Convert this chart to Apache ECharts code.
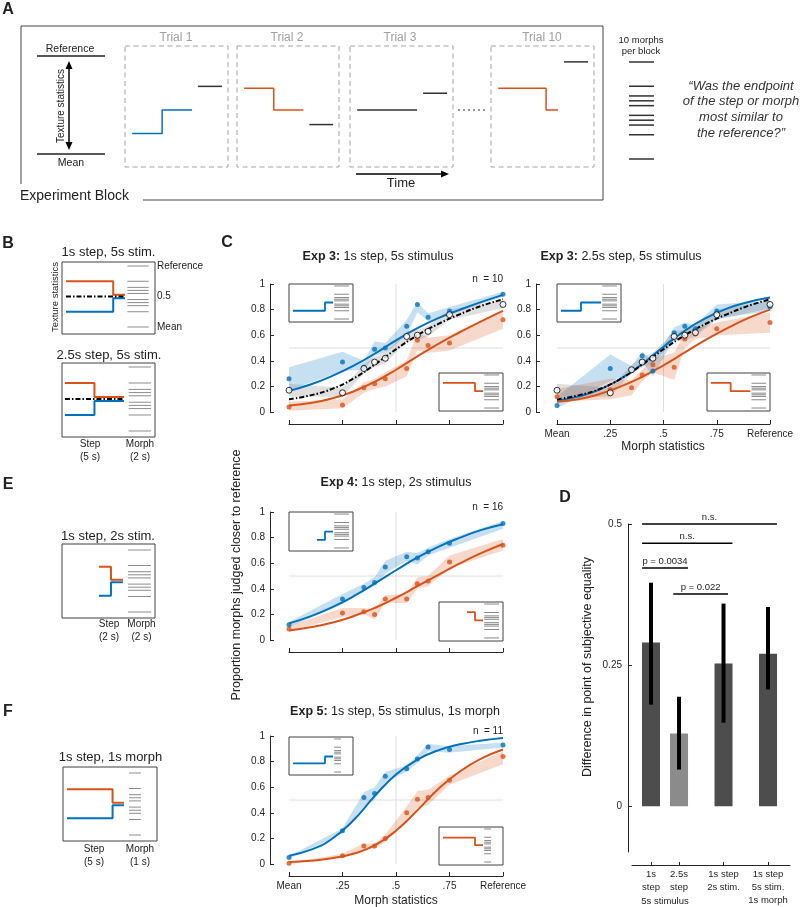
<!DOCTYPE html>
<html><head><meta charset="utf-8">
<script src="https://cdn.jsdelivr.net/npm/echarts@6/dist/echarts.min.js"></script>
<style>html,body{margin:0;padding:0;background:#fff}#c{width:800px;height:907px}</style>
</head><body><div id="c"></div>
<script>
// ---------------- DATA ----------------
const morphLevels = [0, 0.25, 0.35, 0.4, 0.45, 0.55, 0.6, 0.65, 0.75, 1];
const fitX = [0, 0.1, 0.2, 0.3, 0.4, 0.5, 0.6, 0.7, 0.8, 0.9, 1];
const morphTickLabels = ['Mean', '.25', '.5', '.75', 'Reference'];
const refLevel = 0.5;

// Exp 3: 1s step, 5s stimulus
const e3sBlue      = [0.26, 0.39, 0.35, 0.49, 0.50, 0.67, 0.84, 0.74, 0.79, 0.92];
const e3sBlueLo    = [0.17, 0.32, 0.33, 0.44, 0.46, 0.60, 0.78, 0.71, 0.76, 0.90];
const e3sBlueHi    = [0.35, 0.47, 0.40, 0.55, 0.54, 0.72, 0.86, 0.77, 0.82, 0.94];
const e3sBlueFit   = [0.165, 0.215, 0.28, 0.36, 0.455, 0.56, 0.655, 0.735, 0.80, 0.86, 0.915];
const e3sMean      = [0.17, 0.15, 0.34, 0.39, 0.42, 0.59, 0.60, 0.63, 0.76, 0.84];
const e3sMeanLo    = [0.12, 0.12, 0.30, 0.35, 0.38, 0.55, 0.56, 0.59, 0.72, 0.81];
const e3sMeanHi    = [0.22, 0.19, 0.37, 0.43, 0.46, 0.63, 0.64, 0.67, 0.80, 0.87];
const e3sMeanFit   = [0.10, 0.13, 0.18, 0.26, 0.37, 0.49, 0.60, 0.69, 0.765, 0.83, 0.88];
const e3sOrange    = [0.04, 0.055, 0.19, 0.22, 0.26, 0.34, 0.56, 0.52, 0.54, 0.72];
const e3sOrangeLo  = [0.01, 0.03, 0.15, 0.18, 0.20, 0.28, 0.48, 0.46, 0.48, 0.65];
const e3sOrangeHi  = [0.08, 0.10, 0.23, 0.26, 0.31, 0.40, 0.62, 0.58, 0.60, 0.78];
const e3sOrangeFit = [0.05, 0.07, 0.105, 0.16, 0.235, 0.33, 0.435, 0.535, 0.625, 0.71, 0.79];

// Exp 3: 2.5s step, 5s stimulus
const e3lBlue      = [0.05, 0.34, 0.33, 0.44, 0.32, 0.62, 0.67, 0.65, 0.79, 0.82];
const e3lBlueLo    = [0.03, 0.24, 0.30, 0.39, 0.28, 0.57, 0.62, 0.61, 0.73, 0.79];
const e3lBlueHi    = [0.12, 0.45, 0.36, 0.47, 0.40, 0.66, 0.70, 0.68, 0.84, 0.87];
const e3lBlueFit   = [0.09, 0.12, 0.175, 0.26, 0.375, 0.51, 0.635, 0.735, 0.81, 0.86, 0.895];
const e3lMean      = [0.17, 0.15, 0.33, 0.39, 0.42, 0.59, 0.60, 0.62, 0.76, 0.84];
const e3lMeanLo    = [0.12, 0.12, 0.30, 0.35, 0.38, 0.55, 0.56, 0.59, 0.72, 0.81];
const e3lMeanHi    = [0.22, 0.19, 0.37, 0.43, 0.46, 0.63, 0.64, 0.67, 0.80, 0.87];
const e3lMeanFit   = [0.10, 0.13, 0.18, 0.26, 0.37, 0.49, 0.60, 0.69, 0.765, 0.83, 0.88];
const e3lOrange    = [0.12, 0.175, 0.19, 0.29, 0.37, 0.35, 0.57, 0.61, 0.65, 0.70];
const e3lOrangeLo  = [0.08, 0.10, 0.13, 0.24, 0.31, 0.25, 0.50, 0.57, 0.60, 0.62];
const e3lOrangeHi  = [0.18, 0.26, 0.25, 0.33, 0.42, 0.46, 0.62, 0.65, 0.70, 0.78];
const e3lOrangeFit = [0.08, 0.10, 0.14, 0.20, 0.275, 0.365, 0.465, 0.565, 0.655, 0.735, 0.80];

// Exp 4: 1s step, 2s stimulus
const e4Blue      = [0.12, 0.32, 0.41, 0.45, 0.57, 0.65, 0.64, 0.69, 0.755, 0.91];
const e4BlueLo    = [0.10, 0.28, 0.38, 0.42, 0.52, 0.62, 0.59, 0.66, 0.72, 0.87];
const e4BlueHi    = [0.14, 0.36, 0.44, 0.49, 0.62, 0.69, 0.68, 0.72, 0.79, 0.93];
const e4BlueFit   = [0.13, 0.185, 0.255, 0.34, 0.44, 0.545, 0.645, 0.73, 0.80, 0.86, 0.905];
const e4Orange    = [0.085, 0.21, 0.22, 0.20, 0.32, 0.32, 0.44, 0.46, 0.61, 0.74];
const e4OrangeLo  = [0.07, 0.18, 0.20, 0.16, 0.29, 0.29, 0.40, 0.42, 0.56, 0.70];
const e4OrangeHi  = [0.11, 0.25, 0.25, 0.24, 0.35, 0.36, 0.49, 0.50, 0.66, 0.79];
const e4OrangeFit = [0.075, 0.10, 0.135, 0.185, 0.25, 0.33, 0.42, 0.51, 0.60, 0.68, 0.75];

// Exp 5: 1s step, 5s stimulus, 1s morph
const e5Blue      = [0.05, 0.26, 0.52, 0.55, 0.685, 0.745, 0.82, 0.915, 0.895, 0.93];
const e5BlueLo    = [0.04, 0.24, 0.45, 0.50, 0.64, 0.72, 0.79, 0.88, 0.87, 0.91];
const e5BlueHi    = [0.06, 0.28, 0.56, 0.60, 0.72, 0.77, 0.85, 0.94, 0.92, 0.95];
const e5BlueFit   = [0.065, 0.11, 0.195, 0.34, 0.53, 0.70, 0.815, 0.89, 0.935, 0.965, 0.985];
const e5Orange    = [0.005, 0.065, 0.14, 0.14, 0.20, 0.40, 0.505, 0.52, 0.655, 0.84];
const e5OrangeLo  = [0.0, 0.05, 0.12, 0.12, 0.17, 0.35, 0.44, 0.46, 0.62, 0.78];
const e5OrangeHi  = [0.01, 0.08, 0.16, 0.16, 0.23, 0.45, 0.57, 0.58, 0.69, 0.88];
const e5OrangeFit = [0.015, 0.025, 0.045, 0.08, 0.145, 0.26, 0.42, 0.59, 0.725, 0.825, 0.895];

// Panel D
const pseLabels = ['1s\nstep', '2.5s\nstep', '1s step\n2s stim.', '1s step\n5s stim.\n1s morph'];
const pseSlot   = [1, 1.63, 2.63, 3.63];
const pseValues = [0.29, 0.129, 0.253, 0.27];
const pseLo     = [0.18, 0.065, 0.148, 0.207];
const pseHi     = [0.396, 0.194, 0.359, 0.353];
const sigFrom   = [0.8, 0.8, 0.8, 1.5];
const sigTo     = [3.83, 2.83, 1.83, 2.73];
const sigLevel  = [0.5, 0.466, 0.422, 0.376];
const sigText   = ['n.s.', 'n.s.', 'p = 0.0034', 'p = 0.022'];
const pseTicks  = [0, 0.25, 0.5];

// Schematic data (time in s, texture statistic 0 = Mean, 1 = Reference)
const axisLevels = [0, 1];
const trial1Step = [[0,0.21],[2.5,0.21],[2.5,0.45],[5,0.45]];
const trial1Morph = [0.69];
const trial2Step = [[0,0.67],[2.5,0.67],[2.5,0.45],[5,0.45]];
const trial2Morph = [0.30];
const trial3Step = [[0,0.45],[5,0.45]];
const trial3Morph = [0.62];
const trial10Step = [[0,0.67],[4,0.67],[4,0.45],[5,0.45]];
const trial10Morph = [0.94];

const b1Orange = [[0,0.75],[4,0.75],[4,0.53],[5,0.53]];
const b1Blue   = [[0,0.25],[4,0.25],[4,0.47],[5,0.47]];
const b1Mean   = [[0,0.5],[5,0.5]];
const b2Orange = [[0,0.75],[2.5,0.75],[2.5,0.53],[5,0.53]];
const b2Blue   = [[0,0.25],[2.5,0.25],[2.5,0.47],[5,0.47]];
const b2Mean   = [[0,0.5],[5,0.5]];
const eOrange  = [[0,0.73],[1,0.73],[1,0.52],[2,0.52]];
const eBlue    = [[0,0.26],[1,0.26],[1,0.48],[2,0.48]];
const fOrange  = [[0,0.74],[4,0.74],[4,0.52],[5,0.52]];
const fBlue    = [[0,0.27],[4,0.27],[4,0.48],[5,0.48]];

const in3sBlue   = [[0,0.25],[4,0.25],[4,0.5],[5,0.5]];
const in3sOrange = [[0,0.76],[4,0.76],[4,0.51],[5,0.51]];
const in3lBlue   = [[0,0.25],[2.5,0.25],[2.5,0.5],[5,0.5]];
const in3lOrange = [[0,0.76],[2.5,0.76],[2.5,0.51],[5,0.51]];
const in4Blue    = [[3,0.24],[4,0.24],[4,0.48],[5,0.48]];
const in4Orange  = [[3,0.76],[4,0.76],[4,0.52],[5,0.52]];
const in5Blue    = [[0,0.26],[4,0.26],[4,0.47],[5,0.47]];
const in5Orange  = [[0,0.74],[4,0.74],[4,0.51],[5,0.51]];

// ---------------- BUILD ----------------
const FONT = '"Liberation Sans", Arial, Helvetica, sans-serif';
const BLUE = '#0072BD', ORANGE = '#D95319';
const BLUE_BAND = 'rgba(0,114,189,0.22)', ORANGE_BAND = 'rgba(217,83,25,0.22)', GRAY_BAND = 'rgba(100,100,100,0.2)';
const TXT = '#262626';

const grids = [], xAxes = [], yAxes = [], series = [], graphics = [];

function addGrid(rect, xr, yr, border) {
  const i = grids.length;
  grids.push({left: rect[0], top: rect[1], width: rect[2], height: rect[3],
    show: !!border, borderColor: '#404040', borderWidth: border ? 1 : 0, backgroundColor: 'transparent'});
  xAxes.push({type: 'value', gridIndex: i, min: xr[0], max: xr[1], show: false});
  yAxes.push({type: 'value', gridIndex: i, min: yr[0], max: yr[1], show: false});
  return i;
}
function lineS(g, data, color, width, dash, z, extra) {
  series.push(Object.assign({type: 'line', xAxisIndex: g, yAxisIndex: g, data: data, symbol: 'none', showSymbol: false,
    silent: true, animation: false, clip: false, z: z || 3,
    lineStyle: {color: color, width: width, type: dash || 'solid'}}, extra || {}));
}
function morphS(g, levels, x0, x1, color, width) {
  series.push({type: 'custom', xAxisIndex: g, yAxisIndex: g, data: levels.map(v => [x0, v, x1]),
    encode: {x: 0, y: 1}, silent: true, animation: false, z: 3,
    renderItem(p, api) {
      const a = api.coord([api.value(0), api.value(1)]), b = api.coord([api.value(2), api.value(1)]);
      return {type: 'line', shape: {x1: a[0], y1: a[1], x2: b[0], y2: b[1]}, style: {stroke: color, lineWidth: width}};
    }});
}
function schematic(rect, xr, yr, border, paths, morph) {
  const g = addGrid(rect, xr, yr, border);
  paths.forEach(p => lineS(g, p.data, p.color, p.width, p.dash));
  if (morph) morphS(g, morph.levels, morph.x0, morph.x1, morph.color, morph.width);
  return g;
}
function bandS(g, lo, hi, color) {
  const rows = morphLevels.map((x, i) => [x, lo[i], hi[i]]);
  series.push({type: 'custom', xAxisIndex: g, yAxisIndex: g, data: rows, encode: {x: 0, y: [1, 2]},
    silent: true, animation: false, z: 2,
    renderItem(p, api) {
      if (p.dataIndex !== 0) return null;
      const up = rows.map(r => api.coord([r[0], r[2]]));
      const dn = rows.slice().reverse().map(r => api.coord([r[0], r[1]]));
      return {type: 'polygon', shape: {points: up.concat(dn)}, style: {fill: color}};
    }});
}
function cPlot(rect, yOffset, showX, groups) {
  const g = grids.length;
  grids.push({left: rect[0], top: rect[1], width: rect[2], height: rect[3]});
  xAxes.push({type: 'value', gridIndex: g, min: 0, max: 1, interval: 0.25, offset: 12,
    axisLine: {show: true, onZero: false, lineStyle: {color: TXT, width: 1}},
    axisTick: {show: true, inside: true, length: 4, lineStyle: {color: TXT}},
    axisLabel: {show: showX, formatter: v => morphTickLabels[Math.round(v * 4)], fontSize: 10, color: TXT,
      fontFamily: FONT, margin: 5, showMinLabel: true, showMaxLabel: true},
    splitLine: {show: false}});
  yAxes.push({type: 'value', gridIndex: g, min: 0, max: 1, interval: 0.2, offset: yOffset,
    axisLine: {show: true, onZero: false, lineStyle: {color: TXT, width: 1}},
    axisTick: {show: true, inside: true, length: 4, lineStyle: {color: TXT}},
    axisLabel: {fontSize: 10, color: TXT, fontFamily: FONT, margin: 5},
    splitLine: {show: false}});
  lineS(g, [[refLevel, 0], [refLevel, 1]], '#dedede', 1, 'solid', 1);
  lineS(g, [[0, refLevel], [1, refLevel]], '#dedede', 1, 'solid', 1);
  groups.forEach(gr => bandS(g, gr.lo, gr.hi, gr.band));
  groups.forEach(gr => lineS(g, fitX.map((x, i) => [x, gr.fit[i]]), gr.color, 2, gr.dash, 3, {smooth: 0.5}));
  groups.forEach(gr => {
    series.push({type: 'scatter', xAxisIndex: g, yAxisIndex: g, data: morphLevels.map((x, i) => [x, gr.vals[i]]),
      symbol: 'circle', symbolSize: gr.open ? 6 : 5, silent: true, animation: false, z: gr.open ? 5 : 4,
      itemStyle: gr.open ? {color: '#fff', borderColor: '#000', borderWidth: 1} : {color: gr.color}});
  });
  return g;
}

// text helper
function txt(x, y, text, size, o) {
  o = o || {};
  graphics.push({type: 'text', x: x, y: y, rotation: o.rot || 0, silent: true, z: 100,
    style: {text: text, fontSize: size, fontFamily: FONT, fill: o.fill || '#222',
      fontWeight: o.bold ? 'bold' : 'normal', fontStyle: o.italic ? 'italic' : 'normal',
      align: o.align || 'center', textAlign: o.align || 'center', verticalAlign: 'middle', textVerticalAlign: 'middle',
      lineHeight: o.lh || size * 1.2, rich: o.rich}});
}
function gline(pts, stroke, w, dash) {
  graphics.push({type: 'polyline', silent: true, z: 90, shape: {points: pts},
    style: {stroke: stroke, lineWidth: w, fill: null, lineDash: dash || null}});
}
function gtri(pts, fill) {
  graphics.push({type: 'polygon', silent: true, z: 90, shape: {points: pts}, style: {fill: fill}});
}

// ---- Panel A ----
txt(8, 10, 'A', 16, {bold: true});
gline([[143, 200], [603, 200], [603, 26], [21, 26], [21, 184]], '#444', 1);
txt(20, 196, 'Experiment Block', 14, {align: 'left'});
schematic([37, 56, 68, 98], [0, 1], [0, 1], false, [], {levels: axisLevels, x0: 0, x1: 1, color: '#222', width: 1.5});
txt(70, 49, 'Reference', 10.5);
txt(71, 163, 'Mean', 10.5);
txt(61, 106, 'Texture statistics', 10, {rot: Math.PI / 2});
gline([[69, 67], [69, 144]], '#000', 1.5);
gtri([[69, 61], [65.5, 69], [72.5, 69]], '#000');
gtri([[69, 150], [65.5, 142], [72.5, 142]], '#000');

const trialXR = [-0.6, 8.0], trialYR = [-0.133, 1.102];
const trialBoxes = [[125, 46, 103, 121], [237, 46, 102, 121], [350, 46, 103, 121], [491, 46, 103, 121]];
trialBoxes.forEach(r => graphics.push({type: 'rect', silent: true, z: 80, shape: {x: r[0], y: r[1], width: r[2], height: r[3]},
  style: {stroke: '#a3a3a3', lineWidth: 1, fill: null, lineDash: [5, 3.5]}}));
schematic(trialBoxes[0], trialXR, trialYR, false, [{data: trial1Step, color: BLUE, width: 1.5}],
  {levels: trial1Morph, x0: 5.5, x1: 7.5, color: '#333', width: 1.5});
schematic(trialBoxes[1], trialXR, trialYR, false, [{data: trial2Step, color: ORANGE, width: 1.5}],
  {levels: trial2Morph, x0: 5.5, x1: 7.5, color: '#333', width: 1.5});
schematic(trialBoxes[2], trialXR, trialYR, false, [{data: trial3Step, color: '#333', width: 1.5}],
  {levels: trial3Morph, x0: 5.5, x1: 7.5, color: '#333', width: 1.5});
schematic(trialBoxes[3], trialXR, trialYR, false, [{data: trial10Step, color: ORANGE, width: 1.5}],
  {levels: trial10Morph, x0: 5.5, x1: 7.5, color: '#333', width: 1.5});
txt(176, 38, 'Trial 1', 12, {fill: '#a0a0a0'});
txt(287, 38, 'Trial 2', 12, {fill: '#a0a0a0'});
txt(400, 38, 'Trial 3', 12, {fill: '#a0a0a0'});
txt(542, 38, 'Trial 10', 12, {fill: '#a0a0a0'});
gline([[458, 110], [485, 110]], '#777', 1.3, [2, 3]);
gline([[356, 174], [443, 174]], '#000', 1.5);
gtri([[449, 174], [441, 170.5], [441, 177.5]], '#000');
txt(401, 183, 'Time', 13);
txt(641, 40, '10 morphs', 9.5);
txt(641, 51, 'per block', 9.5);
schematic([629, 62, 25, 97], [0, 1], [0, 1], false, [], {levels: morphLevels, x0: 0, x1: 1, color: '#333', width: 1.5});
txt(741, 86, '\u201cWas the endpoint', 13, {italic: true, fill: '#333'});
txt(741, 101.7, 'of the step or morph', 13, {italic: true, fill: '#333'});
txt(741, 117.3, 'most similar to', 13, {italic: true, fill: '#333'});
txt(741, 133.3, 'the reference?\u201d', 13, {italic: true, fill: '#333'});

// ---- Panel B ----
txt(8, 244, 'B', 16, {bold: true});
txt(108.5, 252, '1s step, 5s stim.', 13);
schematic([62, 262, 93, 72], [-0.34, 7.54], [-0.115, 1.066], true,
  [{data: b1Orange, color: ORANGE, width: 2}, {data: b1Blue, color: BLUE, width: 2},
   {data: b1Mean, color: '#000', width: 1.8, dash: [5, 2, 1.5, 2]}],
  {levels: morphLevels, x0: 5.2, x1: 7.0, color: '#8c8c8c', width: 1});
txt(55, 297, 'Texture statistics', 9.5, {rot: Math.PI / 2});
txt(157, 266, 'Reference', 10, {align: 'left'});
txt(157, 296, '0.5', 10, {align: 'left'});
txt(157, 327, 'Mean', 10, {align: 'left'});
txt(109, 355, '2.5s step, 5s stim.', 13);
schematic([62, 363, 93, 74], [-0.25, 7.63], [-0.094, 1.0625], true,
  [{data: b2Orange, color: ORANGE, width: 2}, {data: b2Blue, color: BLUE, width: 2},
   {data: b2Mean, color: '#000', width: 1.8, dash: [5, 2, 1.5, 2]}],
  {levels: morphLevels, x0: 5.4, x1: 7.3, color: '#8c8c8c', width: 1});
txt(90, 444, 'Step', 10); txt(90, 457, '(5 s)', 10);
txt(140, 444, 'Morph', 10); txt(140, 457, '(2 s)', 10);

// ---- Panel E ----
txt(8, 485, 'E', 16, {bold: true});
txt(108, 536, '1s step, 2s stim.', 13);
schematic([62, 544, 93, 74], [-3.08, 4.67], [-0.097, 1.097], true,
  [{data: eOrange, color: ORANGE, width: 2}, {data: eBlue, color: BLUE, width: 2}],
  {levels: morphLevels, x0: 2.42, x1: 4.33, color: '#8c8c8c', width: 1});
txt(109, 624, 'Step', 10); txt(109, 637, '(2 s)', 10);
txt(141.5, 624, 'Morph', 10); txt(141.5, 637, '(2 s)', 10);

// ---- Panel F ----
txt(8, 712, 'F', 16, {bold: true});
txt(110.5, 757, '1s step, 1s morph', 13);
schematic([63, 767, 94, 74], [-0.35, 7.9], [-0.097, 1.097], true,
  [{data: fOrange, color: ORANGE, width: 2}, {data: fBlue, color: BLUE, width: 2}],
  {levels: morphLevels, x0: 5.44, x1: 6.49, color: '#8c8c8c', width: 1});
txt(94, 849, 'Step', 10); txt(94, 862, '(5 s)', 10);
txt(140, 849, 'Morph', 10); txt(140, 862, '(1 s)', 10);

// ---- Panel C ----
txt(227, 243, 'C', 16, {bold: true});
const richB = {b: {fontWeight: 'bold', fontSize: 12.5, fontFamily: FONT, fill: '#222'}};
txt(378, 257, '{b|Exp 3:} 1s step, 5s stimulus', 12.5, {rich: richB});
txt(621, 257, '{b|Exp 3:} 2.5s step, 5s stimulus', 12.5, {rich: richB});
txt(396, 483, '{b|Exp 4:} 1s step, 2s stimulus', 12.5, {rich: richB});
txt(395, 712, '{b|Exp 5:} 1s step, 5s stimulus, 1s morph', 12.5, {rich: richB});
txt(503, 279, 'n  = 10', 10, {align: 'right'});
txt(503, 507, 'n  = 16', 10, {align: 'right'});
txt(503, 731, 'n  = 11', 10, {align: 'right'});
txt(663, 447, 'Morph statistics', 12);
txt(396, 901, 'Morph statistics', 12);
txt(237, 575, 'Proportion morphs judged closer to reference', 12.5, {rot: Math.PI / 2});

const grp = (vals, lo, hi, fit, color, band, dash, open) => ({vals, lo, hi, fit, color, band, dash, open});
cPlot([289, 284, 214, 128], 19, false, [
  grp(e3sBlue, e3sBlueLo, e3sBlueHi, e3sBlueFit, BLUE, BLUE_BAND),
  grp(e3sOrange, e3sOrangeLo, e3sOrangeHi, e3sOrangeFit, ORANGE, ORANGE_BAND),
  grp(e3sMean, e3sMeanLo, e3sMeanHi, e3sMeanFit, '#000', GRAY_BAND, [5, 2, 1.5, 2], true)]);
cPlot([557, 284, 213, 128], 21, true, [
  grp(e3lBlue, e3lBlueLo, e3lBlueHi, e3lBlueFit, BLUE, BLUE_BAND),
  grp(e3lOrange, e3lOrangeLo, e3lOrangeHi, e3lOrangeFit, ORANGE, ORANGE_BAND),
  grp(e3lMean, e3lMeanLo, e3lMeanHi, e3lMeanFit, '#000', GRAY_BAND, [5, 2, 1.5, 2], true)]);
cPlot([289, 512, 214, 128], 19, false, [
  grp(e4Blue, e4BlueLo, e4BlueHi, e4BlueFit, BLUE, BLUE_BAND),
  grp(e4Orange, e4OrangeLo, e4OrangeHi, e4OrangeFit, ORANGE, ORANGE_BAND)]);
cPlot([289, 736, 214, 128], 19, true, [
  grp(e5Blue, e5BlueLo, e5BlueHi, e5BlueFit, BLUE, BLUE_BAND),
  grp(e5Orange, e5OrangeLo, e5OrangeHi, e5OrangeFit, ORANGE, ORANGE_BAND)]);

const inXR = [-0.5, 7.5], inYR = [-0.09, 1.06];
const inset = (rect, data, color, mx1) => schematic(rect, inXR, inYR, true, [{data: data, color: color, width: 1.8}],
  {levels: morphLevels, x0: 5.15, x1: mx1, color: '#888', width: 1});
inset([289, 284, 64, 38], in3sBlue, BLUE, 7.0);
inset([439, 373, 64, 38], in3sOrange, ORANGE, 7.0);
inset([557, 284, 64, 38], in3lBlue, BLUE, 7.0);
inset([707, 373, 63, 38], in3lOrange, ORANGE, 7.0);
inset([289, 512, 64, 39], in4Blue, BLUE, 7.0);
inset([439, 602, 64, 39], in4Orange, ORANGE, 7.0);
inset([289, 737, 64, 38], in5Blue, BLUE, 6.0);
inset([439, 827, 64, 38], in5Orange, ORANGE, 6.0);

// ---- Panel D ----
txt(565, 498, 'D', 16, {bold: true});
const gD = grids.length;
grids.push({left: 632, top: 524, width: 158, height: 329});
xAxes.push({type: 'value', gridIndex: gD, min: 0.573, max: 4.124, offset: 13,
  axisLine: {show: true, onZero: false, lineStyle: {color: TXT}},
  axisTick: {show: true, inside: true, length: 3, customValues: pseSlot, lineStyle: {color: TXT}},
  axisLabel: {show: true, customValues: pseSlot, fontSize: 9.5, color: TXT, fontFamily: FONT, margin: 3,
    lineHeight: 13, verticalAlign: 'top',
    formatter: v => { let k = 0; pseSlot.forEach((s, i) => { if (Math.abs(s - v) < Math.abs(pseSlot[k] - v)) k = i; }); return pseLabels[k]; }},
  splitLine: {show: false}});
yAxes.push({type: 'value', gridIndex: gD, min: -0.081, max: 0.5, offset: 4,
  axisLine: {show: true, onZero: false, lineStyle: {color: TXT}},
  axisTick: {show: true, inside: true, length: 4, customValues: pseTicks, lineStyle: {color: TXT}},
  axisLabel: {show: true, customValues: pseTicks, fontSize: 10, color: TXT, fontFamily: FONT, margin: 6,
    formatter: v => String(+v.toFixed(2))},
  splitLine: {show: false}});
series.push({type: 'bar', xAxisIndex: gD, yAxisIndex: gD, barWidth: 18, silent: true, animation: false, z: 2,
  data: pseSlot.map((x, i) => ({value: [x, pseValues[i]], itemStyle: {color: i === 1 ? '#8b8b8b' : '#4d4d4d'}}))});
series.push({type: 'custom', xAxisIndex: gD, yAxisIndex: gD, silent: true, animation: false, z: 5,
  data: pseSlot.map((x, i) => [x, pseLo[i], pseHi[i]]), encode: {x: 0, y: [1, 2]},
  renderItem(p, api) {
    const a = api.coord([api.value(0), api.value(1)]), b = api.coord([api.value(0), api.value(2)]);
    return {type: 'line', shape: {x1: a[0], y1: a[1], x2: b[0], y2: b[1]}, style: {stroke: '#000', lineWidth: 4}};
  }});
series.push({type: 'custom', xAxisIndex: gD, yAxisIndex: gD, silent: true, animation: false, z: 5, clip: false,
  data: sigFrom.map((x, i) => [x, sigLevel[i], sigTo[i]]), encode: {x: 0, y: 1},
  renderItem(p, api) {
    const a = api.coord([api.value(0), api.value(1)]), b = api.coord([api.value(2), api.value(1)]);
    return {type: 'group', children: [
      {type: 'line', shape: {x1: a[0], y1: a[1], x2: b[0], y2: b[1]}, style: {stroke: '#000', lineWidth: 1.5}},
      {type: 'text', x: (a[0] + b[0]) / 2, y: a[1] - 7, style: {text: sigText[p.dataIndex], fontSize: 9.5,
        fontFamily: FONT, fill: TXT, align: 'center', verticalAlign: 'middle', textAlign: 'center', textVerticalAlign: 'middle'}}]};
  }});
txt(588, 667, 'Difference in point of subjective equality', 12.5, {rot: Math.PI / 2});
txt(665, 901, '5s stimulus', 9.5);

const chart = echarts.init(document.getElementById('c'), null, {renderer: 'canvas'});
chart.setOption({animation: false, backgroundColor: '#fff', grid: grids, xAxis: xAxes, yAxis: yAxes, series: series, graphic: graphics});
</script></body></html>
